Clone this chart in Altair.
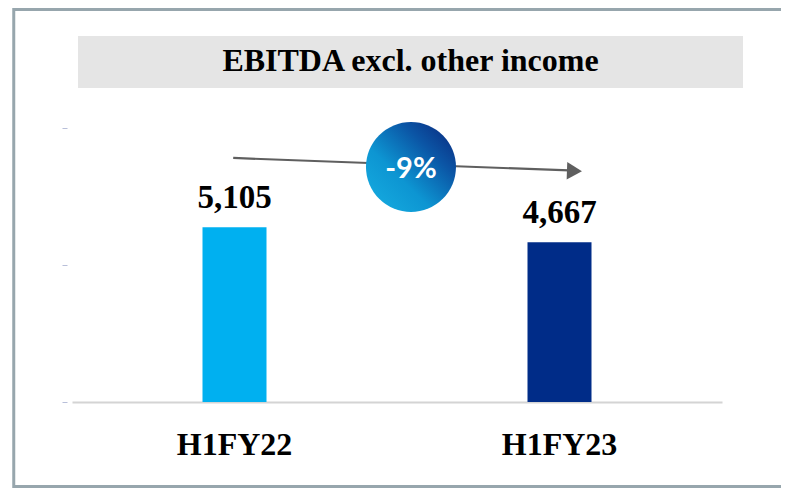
import altair as alt
import pandas as pd

# ---- data ----
categories = ["H1FY22", "H1FY23"]
values = [5105, 4667]
value_labels = ["5,105", "4,667"]
bar_colors = ["#00b0f0", "#002c88"]
y_ticks = [0, 4000, 8000]

title_text = "EBITDA excl. other income"
change_text = "-9%"

# annotation positions (x: 0..1 across the plot, y: value units)
arrow_x = [0.248, 0.765]
arrow_y = [7125, 6760]
head_x = [0.773]
head_y = [6745]
badge_x = [0.5215]
badge_y = [6860]

W, H = 650, 274
serif = "Liberation Serif"

bars_df = pd.DataFrame({"cat": categories, "value": values, "label": value_labels})
arrow_df = pd.DataFrame({"x": [arrow_x[0]], "x2": [arrow_x[1]], "y": [arrow_y[0]], "y2": [arrow_y[1]]})
head_df = pd.DataFrame({"x": head_x, "y": head_y})
badge_df = pd.DataFrame({"x": badge_x, "y": badge_y, "t": [change_text]})
deco_df = pd.DataFrame({"t": [title_text]})

# ---- decorations ----
border = alt.Chart(deco_df).mark_rect(
    fillOpacity=0, stroke="#97a6ad", strokeWidth=3
).encode(
    x=alt.value(-58.25), x2=alt.value(820), y=alt.value(-118.5), y2=alt.value(358.5)
)

band = alt.Chart(deco_df).mark_rect(color="#e5e5e5").encode(
    x=alt.value(6), x2=alt.value(671), y=alt.value(-92), y2=alt.value(-40)
)

title = alt.Chart(deco_df).mark_text(
    font=serif, fontSize=32, fontWeight="bold", color="#000000",
    align="center", baseline="alphabetic"
).encode(x=alt.value(338.5), y=alt.value(-57.5), text="t:N")

# ---- bars ----
band_scale = alt.Scale(domain=categories, paddingInner=0, paddingOuter=0)
xenc = alt.X(
    "cat:N", sort=categories, title=None, scale=band_scale,
    axis=alt.Axis(
        labelAngle=0, ticks=False, domain=True, domainColor="#d4d4d4", domainWidth=2,
        labelFont=serif, labelFontSize=32, labelFontWeight="bold", labelColor="#000000",
        labelBaseline="alphabetic", labelPadding=52, grid=False,
    ),
)
yenc = alt.Y(
    "value:Q", title=None,
    scale=alt.Scale(domain=[0, 8000], nice=False, zero=True),
    axis=alt.Axis(
        values=y_ticks, labels=False, domain=False, grid=False,
        ticks=True, tickSize=5, tickColor="#b8bfd9", tickWidth=1, offset=5,
    ),
)

bars = alt.Chart(bars_df).mark_bar(size=64).encode(
    x=xenc, y=yenc,
    color=alt.Color("cat:N", scale=alt.Scale(domain=categories, range=bar_colors), legend=None),
)

labels = alt.Chart(bars_df).mark_text(
    font=serif, fontSize=33, fontWeight="bold", color="#000000",
    baseline="alphabetic", align="center", dy=-19
).encode(
    x=alt.X("cat:N", sort=categories, scale=band_scale, axis=None),
    y=alt.Y("value:Q"), text="label:N",
)

# ---- arrow + badge ----
xq = alt.Scale(domain=[0, 1], nice=False, zero=False)

arrow = alt.Chart(arrow_df).mark_rule(color="#5f5f5f", strokeWidth=2.2).encode(
    x=alt.X("x:Q", scale=xq, axis=None), x2="x2:Q",
    y=alt.Y("y:Q"), y2="y2:Q",
)

head = alt.Chart(head_df).mark_point(
    shape="triangle-right", filled=True, size=300, color="#5f5f5f", opacity=1, angle=2
).encode(x=alt.X("x:Q", scale=xq, axis=None), y=alt.Y("y:Q"))

grad = alt.Gradient(
    gradient="linear", x1=0, y1=1, x2=1, y2=0,
    stops=[
        alt.GradientStop(color="#17afe2", offset=0),
        alt.GradientStop(color="#0d95d2", offset=0.38),
        alt.GradientStop(color="#0b55a5", offset=0.7),
        alt.GradientStop(color="#0a2479", offset=1),
    ],
)

badge = alt.Chart(badge_df).mark_circle(size=8100, color=grad, opacity=1).encode(
    x=alt.X("x:Q", scale=xq, axis=None), y=alt.Y("y:Q")
)

badge_text = alt.Chart(badge_df).mark_text(
    font="Lato", fontSize=29, fontWeight="bold", color="#ffffff",
    align="center", baseline="middle", dy=2
).encode(x=alt.X("x:Q", scale=xq, axis=None), y=alt.Y("y:Q"), text="t:N")

chart = alt.layer(
    border, band, title, bars, labels, arrow, head, badge, badge_text
).resolve_scale(x="independent").properties(
    width=W, height=H,
    autosize=alt.AutoSizeParams(type="none"),
    padding={"left": 64, "top": 120, "right": 59, "bottom": 86},
    background="#ffffff",
).configure_view(stroke=None)

chart.save("out.html", embed_options={"renderer": "svg", "actions": False})
